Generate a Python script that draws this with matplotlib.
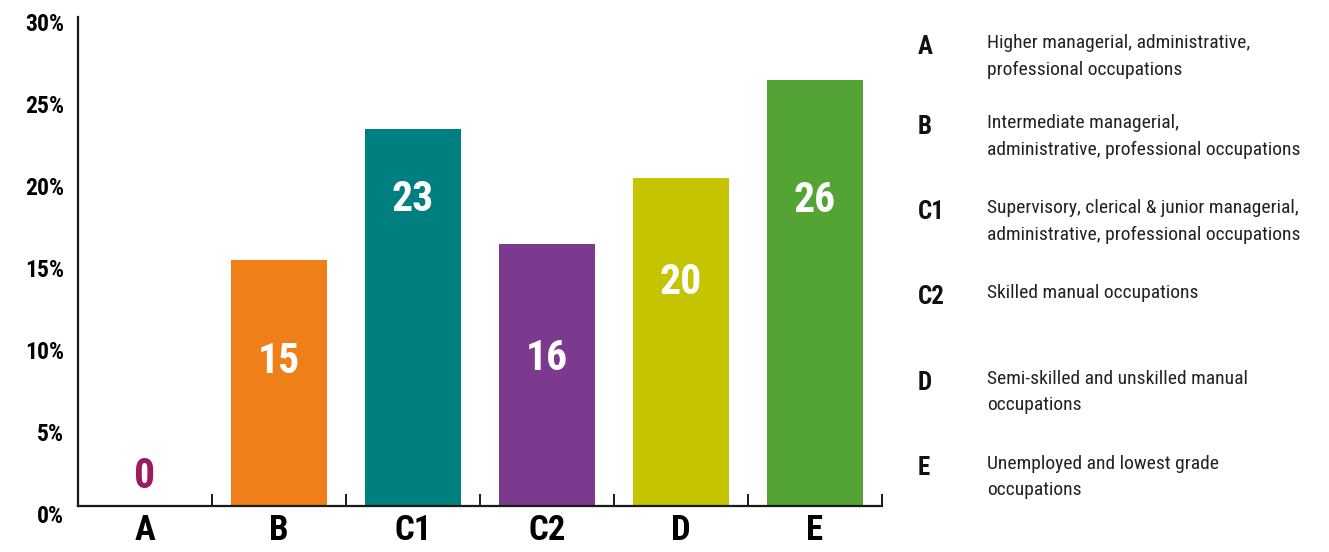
import matplotlib
matplotlib.use("Agg")
import matplotlib.pyplot as plt
from matplotlib import font_manager as fm
from matplotlib.transforms import ScaledTranslation

# data
categories = ["A", "B", "C1", "C2", "D", "E"]
shares = [0, 15, 23, 16, 20, 26]
bar_colors = ["#9E1A5E", "#EF7F18", "#007F80", "#7C3A8E", "#C4C400", "#53A435"]
descriptions = [
    "Higher managerial, administrative,\nprofessional occupations",
    "Intermediate managerial,\nadministrative, professional occupations",
    "Supervisory, clerical & junior managerial,\nadministrative, professional occupations",
    "Skilled manual occupations",
    "Semi-skilled and unskilled manual\noccupations",
    "Unemployed and lowest grade\noccupations",
]
yticks = [0, 5, 10, 15, 20, 25, 30]

# where the value labels sit inside the bars (data units)
label_y = [1.8, 8.8, 18.7, 9.0, 13.6, 18.6]


def pick(cands):
    for c in cands:
        try:
            fm.findfont(fm.FontProperties(family=c), fallback_to_default=False)
            return c
        except ValueError:
            pass
    return "DejaVu Sans"


FONT = pick(["Roboto Condensed", "Liberation Sans Narrow", "DejaVu Sans"])
plt.rcParams["font.family"] = [FONT, "DejaVu Sans"]

W, H = 1329, 552
fig = plt.figure(figsize=(W / 100, H / 100), dpi=100)
ax = fig.add_axes([78 / W, 1 - 506 / H, (882 - 78) / W, (506 - 14) / H])

x = list(range(len(categories)))
ax.bar(x, shares, width=0.72, color=bar_colors)

for i, (v, ly) in enumerate(zip(shares, label_y)):
    col = bar_colors[i] if v == 0 else "white"
    ax.text(i, ly, f"{v}", ha="center", va="center", color=col,
            fontsize=30, fontweight="bold")

ax.set_xlim(-0.5, len(categories) - 0.5)
ax.set_ylim(0, 30)
for s in ["top", "right"]:
    ax.spines[s].set_visible(False)
for s in ["left", "bottom"]:
    ax.spines[s].set_linewidth(1.6)
    ax.spines[s].set_color("#1a1a1a")
ax.spines["left"].set_bounds(0, 29.8)

ax.set_xticks(x)
ax.set_xticklabels(categories, fontsize=25, fontweight="bold")
ax.tick_params(axis="x", which="major", length=0, pad=6)
ax.set_xticks([i + 0.5 for i in x], minor=True)
ax.tick_params(axis="x", which="minor", direction="in", length=9, width=1.4,
               color="#1a1a1a")

ax.set_yticks(yticks)
ax.set_yticklabels([f"{t}%" for t in yticks], fontsize=17, fontweight="bold")
ax.tick_params(axis="y", length=0, pad=10)
shift = ScaledTranslation(0, -8 / 100, fig.dpi_scale_trans)
for lab in ax.get_yticklabels():
    lab.set_transform(lab.get_transform() + shift)

# key on the right
row_y = [47, 127, 212, 297, 383, 468]
for cat, desc, ry in zip(categories, descriptions, row_y):
    fig.text(918 / W, 1 - ry / H, cat, ha="left", va="center",
             fontsize=18, fontweight="bold", color="#111111")
    fig.text(987 / W, 1 - (ry - 13) / H, desc, ha="left", va="top",
             fontsize=14, color="#222222", linespacing=1.6)

fig.savefig("out.png", dpi=100)
